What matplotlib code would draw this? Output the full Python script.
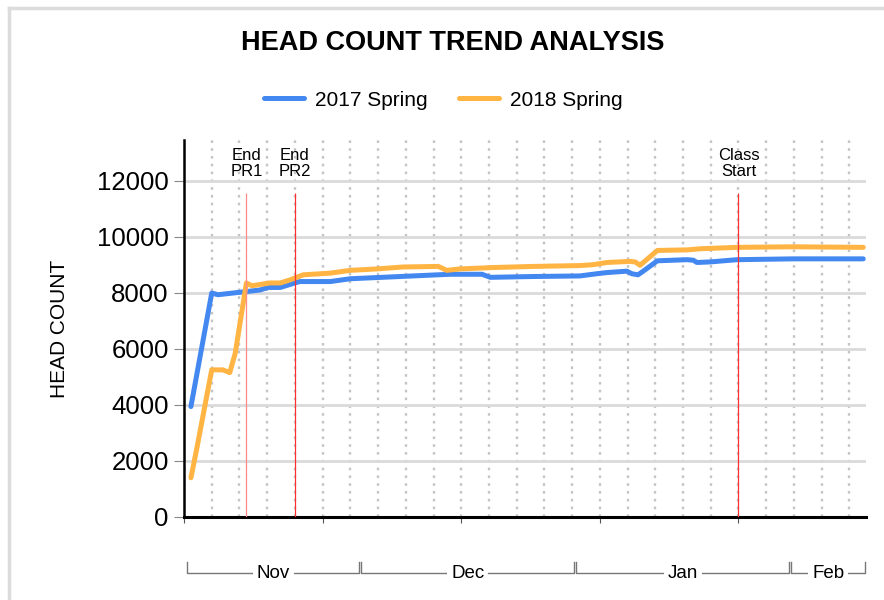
import matplotlib.pyplot as plt
from matplotlib.lines import Line2D

plt.rcParams['font.family'] = ['Liberation Sans', 'DejaVu Sans']

# x = day number (day 0 = Nov 5)
days_2017 = [1, 4, 4.9, 8.5, 11, 12.1, 13.9, 16, 16.7, 21.1, 24, 31.2, 38.4, 43, 44.2,
             50.4, 57.1, 59.6, 61, 63.9, 64.6, 65.5, 66.2, 68.3, 72.6, 73.5, 74, 75.9,
             79.8, 87.9, 98]
count_2017 = [3940, 7990, 7930, 8030, 8100, 8190, 8190, 8350, 8400, 8400, 8500, 8580,
              8660, 8660, 8550, 8580, 8600, 8680, 8720, 8770, 8680, 8640, 8760, 9140,
              9180, 9160, 9080, 9100, 9180, 9210, 9210]

days_2018 = [1, 1.9, 4, 5.6, 6.6, 7.4, 9, 9.8, 12.4, 13.9, 15.3, 17.2, 21.1, 24, 27.8,
             31.6, 36.7, 37.9, 39.8, 44.6, 50.4, 57.1, 59, 61, 64.4, 65.1, 65.8, 68.3,
             72.6, 74.5, 79.8, 87.9, 98]
count_2018 = [1400, 2510, 5250, 5250, 5150, 5850, 8350, 8250, 8350, 8350, 8460, 8640,
              8700, 8800, 8850, 8920, 8940, 8800, 8850, 8900, 8940, 8970, 9000, 9080,
              9120, 9100, 8980, 9510, 9530, 9570, 9620, 9640, 9620]

events = ["End\nPR1", "End\nPR2", "Class\nStart"]
event_days = [9, 16, 80]
event_colors = ['#ff8a8a', '#ff3030', '#ff3030']

months = ["Nov", "Dec", "Jan", "Feb"]
month_start = [0.5, 25.6, 56.6, 87.6]
month_end = [25.3, 56.3, 87.3, 98.3]

blue = '#4388f0'
orange = '#ffb443'

fig = plt.figure(figsize=(8.84, 6), dpi=100)
ax = fig.add_axes([184 / 884, 83 / 600, 682 / 884, 377 / 600])

ax.plot(days_2017, count_2017, color=blue, lw=3.6, solid_capstyle='round',
        solid_joinstyle='round', label='2017 Spring', zorder=3)
ax.plot(days_2018, count_2018, color=orange, lw=3.6, solid_capstyle='round',
        solid_joinstyle='round', label='2018 Spring', zorder=3)

for name, d, c in zip(events, event_days, event_colors):
    ax.vlines(d, 0, 11570, color=c, lw=0.9, zorder=4)
    ax.text(d, 12620, name, ha='center', va='center', fontsize=12, linespacing=1.05)

ax.set_xlim(0, 98.4)
ax.set_ylim(0, 13450)
ax.set_yticks(range(0, 12001, 2000))
ax.set_xticks([0, 20, 40, 60, 80])
ax.set_xticks(range(4, 98, 4), minor=True)
ax.set_xticklabels([])
ax.tick_params(axis='y', labelsize=18.5, length=7, width=0.8, color='#888888', pad=4)
ax.tick_params(axis='x', which='major', length=4.5, width=0.8, color='#555555')
ax.tick_params(axis='x', which='minor', length=0)

ax.grid(axis='y', color='#dadada', lw=2)
ax.grid(axis='x', which='both', color='#c4c4c4', lw=1.7, linestyle=(0, (1.1, 2.2)))
ax.set_axisbelow(True)

for s in ['top', 'right']:
    ax.spines[s].set_visible(False)
ax.spines['left'].set_linewidth(1.8)
ax.spines['bottom'].set_linewidth(2.2)

# month brackets under the axis
tr = ax.get_xaxis_transform()
yb, yt = -0.1485, -0.119
for m, a, b in zip(months, month_start, month_end):
    ax.plot([a, a, b, b], [yt, yb, yb, yt], color='#777777', lw=1.0,
            transform=tr, clip_on=False)
    ax.text((a + b) / 2, yb - 0.002, m, transform=tr, ha='center', va='center',
            fontsize=13.5, bbox=dict(boxstyle='square,pad=0.2', fc='white', ec='none'))

fig.text(452.5 / 884, 1 - 43 / 600, "HEAD COUNT TREND ANALYSIS", ha='center',
         va='center', fontsize=19.5, fontweight='bold')
fig.text(60 / 884, 1 - 328.5 / 600, "HEAD COUNT", rotation=90, ha='center',
         va='center', fontsize=15)

fig.legend(loc='center', bbox_to_anchor=(443.5 / 884, 1 - 100 / 600), ncol=2,
           frameon=False, fontsize=15, handlelength=1.9, handletextpad=0.55,
           columnspacing=1.5)

# border of the panel
fig.add_artist(Line2D([9 / 884, 9 / 884], [0, 1 - 7.5 / 600], color='#dcdcdc', lw=2.5))
fig.add_artist(Line2D([9 / 884, 1], [1 - 7.5 / 600, 1 - 7.5 / 600], color='#dcdcdc', lw=2.5))

fig.savefig('out.png', dpi=100)
